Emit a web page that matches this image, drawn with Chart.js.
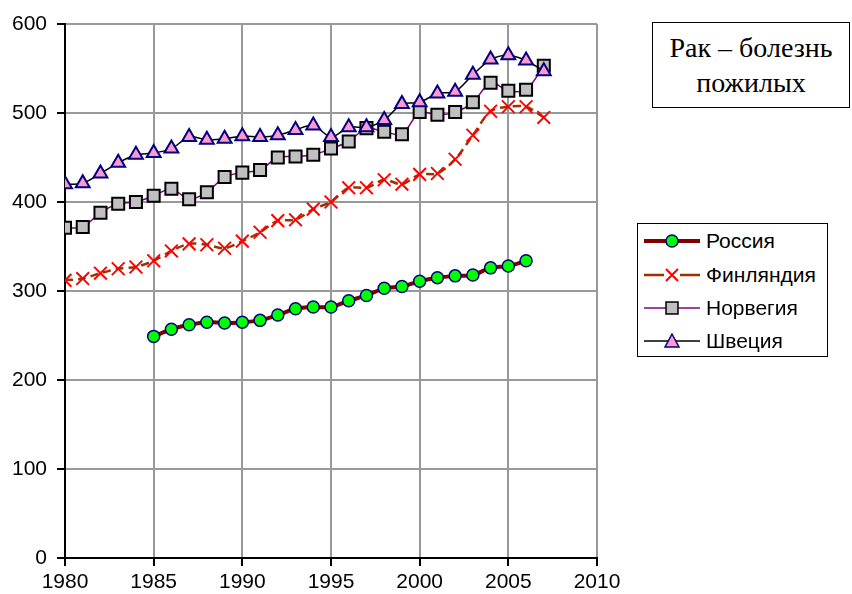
<!DOCTYPE html>
<html>
<head>
<meta charset="utf-8">
<script src="https://cdn.jsdelivr.net/npm/chart.js@4/dist/chart.umd.min.js"></script>
<style>
  body { margin: 0; background: #fff; }
  #wrap { position: relative; width: 852px; height: 594px; }
  #title {
    position: absolute; left: 652px; top: 22px; width: 198px; height: 86px;
    border: 1.5px solid #000; font-family: "Liberation Serif", serif; font-size: 28px;
    text-align: center; line-height: 35px; padding-top: 7px; box-sizing: border-box; background: #fff;
  }
  #legend {
    position: absolute; left: 637px; top: 223px; width: 191px; height: 134px;
    border: 1.5px solid #000; box-sizing: border-box; background: #fff;
    font-family: "Liberation Sans", Arial, sans-serif; font-size: 21px;
  }
  .row { position: absolute; left: 4px; height: 34px; display: flex; align-items: center; }
  .row svg { margin-right: 4px; }
</style>
</head>
<body>
<div id="wrap">
  <canvas id="c" width="852" height="594"></canvas>
  <div id="title">Рак – болезнь<br>пожилых</div>
  <div id="legend">
    <div class="row" style="top:0px"><svg width="60" height="20"><line x1="2" y1="10" x2="58" y2="10" stroke="#800000" stroke-width="4"/><circle cx="30" cy="10" r="6" fill="#00ff00" stroke="#000080" stroke-width="1.5"/></svg>Россия</div>
    <div class="row" style="top:34px"><svg width="60" height="20"><line x1="2" y1="10" x2="58" y2="10" stroke="#993300" stroke-width="2.5" stroke-dasharray="20 16"/><path d="M24 4 L36 16 M36 4 L24 16" stroke="#ff0000" stroke-width="2"/></svg>Финляндия</div>
    <div class="row" style="top:67px"><svg width="60" height="20"><line x1="2" y1="10" x2="58" y2="10" stroke="#800080" stroke-width="1.5"/><rect x="24" y="4" width="12" height="12" fill="#c0c0c0" stroke="#000" stroke-width="1.5"/></svg>Норвегия</div>
    <div class="row" style="top:100px"><svg width="60" height="20"><line x1="2" y1="10" x2="58" y2="10" stroke="#000" stroke-width="1.5"/><path d="M30 3 L37 16 L23 16 Z" fill="#ff99cc" stroke="#000080" stroke-width="1.5"/></svg>Швеция</div>
  </div>
</div>
<script>
// данные
const yearsRussia = [1985, 1986, 1987, 1988, 1989, 1990, 1991, 1992, 1993, 1994, 1995, 1996, 1997, 1998, 1999, 2000, 2001, 2002, 2003, 2004, 2005, 2006];
const russia = [249, 257, 262, 265, 264, 265, 267, 273, 280, 282, 282, 289, 295, 303, 305, 311, 315, 317, 318, 326, 328, 334];

const years = [1980, 1981, 1982, 1983, 1984, 1985, 1986, 1987, 1988, 1989, 1990, 1991, 1992, 1993, 1994, 1995, 1996, 1997, 1998, 1999, 2000, 2001, 2002, 2003, 2004, 2005, 2006, 2007];
const finland = [312, 314, 320, 325, 327, 334, 345, 353, 352, 348, 356, 366, 379, 380, 392, 400, 416, 416, 425, 420, 431, 432, 448, 475, 502, 507, 507, 495];
const norway = [371, 372, 388, 398, 400, 407, 415, 403, 411, 428, 433, 436, 450, 451, 453, 460, 468, 483, 479, 476, 501, 498, 501, 512, 534, 525, 526, 553];
const sweden = [420, 421, 432, 444, 453, 455, 460, 473, 470, 471, 474, 473, 475, 481, 486, 473, 484, 484, 492, 510, 512, 522, 524, 543, 560, 565, 559, 547];

const xTicks = [1980, 1985, 1990, 1995, 2000, 2005, 2010];
const yTicks = [0, 100, 200, 300, 400, 500, 600];

function pts(xs, ys) {
    return xs.map((x, i) => ({ x: x, y: ys[i] }));
}

const ctx = document.getElementById("c").getContext("2d");
new Chart(ctx, {
    type: "line",
    data: {
        datasets: [
            {
                label: "Россия",
                data: pts(yearsRussia, russia),
                borderColor: "#800000",
                borderWidth: 4,
                pointStyle: "circle",
                pointRadius: 6,
                pointBackgroundColor: "#00ff00",
                pointBorderColor: "#000080",
                pointBorderWidth: 1.5,
                order: 4
            },
            {
                label: "Финляндия",
                data: pts(years, finland),
                borderColor: "#993300",
                borderWidth: 2.5,
                borderDash: [8, 5],
                pointStyle: "crossRot",
                pointRadius: 9,
                pointBorderColor: "#ff0000",
                pointBorderWidth: 2,
                order: 3
            },
            {
                label: "Норвегия",
                data: pts(years, norway),
                borderColor: "#800080",
                borderWidth: 1.5,
                pointStyle: "rect",
                pointRadius: 8.5,
                pointBackgroundColor: "#c0c0c0",
                pointBorderColor: "#000000",
                pointBorderWidth: 2,
                order: 2
            },
            {
                label: "Швеция",
                data: pts(years, sweden),
                borderColor: "#000000",
                borderWidth: 1.5,
                pointStyle: "triangle",
                pointRadius: 8,
                pointBackgroundColor: "#ff99cc",
                pointBorderColor: "#000080",
                pointBorderWidth: 2,
                order: 1
            }
        ]
    },
    options: {
        responsive: false,
        animation: false,
        layout: { padding: { left: 0, right: 255, top: 24, bottom: 0 } },
        elements: { line: { tension: 0.3 } },
        plugins: {
            legend: { display: false },
            tooltip: { enabled: false }
        },
        scales: {
            x: {
                type: "linear",
                min: 1980,
                max: 2010,
                afterFit: s => { s.height = 36; },
                afterBuildTicks: s => { s.ticks = xTicks.map(v => ({ value: v })); },
                border: { color: "#000", width: 2 },
                grid: { color: "#999", lineWidth: 2, tickColor: "#000", tickLength: 8 },
                ticks: {
                    color: "#000",
                    padding: 4,
                    maxRotation: 0,
                    font: { family: "Liberation Sans", size: 21 },
                    callback: v => String(v)
                }
            },
            y: {
                min: 0,
                max: 600,
                afterFit: s => { s.width = 65; },
                afterBuildTicks: s => { s.ticks = yTicks.map(v => ({ value: v })); },
                border: { color: "#000", width: 2 },
                grid: { color: "#999", lineWidth: 2, tickColor: "#000", tickLength: 8 },
                ticks: {
                    color: "#000",
                    padding: 10,
                    font: { family: "Liberation Sans", size: 21 }
                }
            }
        }
    }
});
</script>
</body>
</html>
